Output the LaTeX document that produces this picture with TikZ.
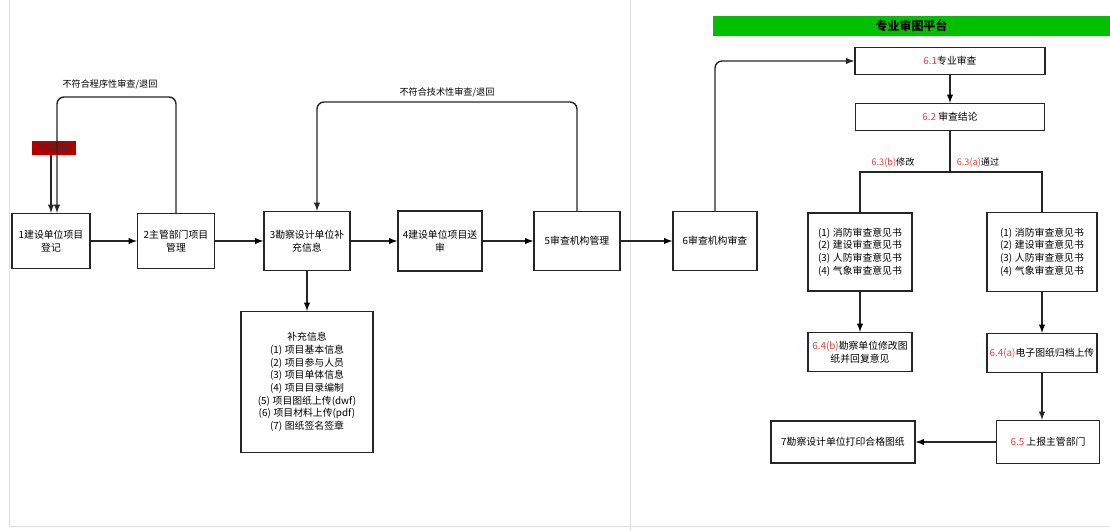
\documentclass[tikz,border=0pt]{standalone}
\usepackage{fontspec}
\usepackage{tikz}
\newfontfamily\cjk{Noto Sans CJK SC}
\definecolor{numred}{HTML}{E8413A}
\definecolor{startred}{HTML}{B00000}
\definecolor{bargreen}{HTML}{00C000}
\newcommand{\rnum}[1]{\textcolor{numred}{#1}}

\begin{document}
\begin{tikzpicture}[x=0.025cm,y=-0.025cm,
        box/.style={shape=rectangle,draw=black!85,line width=1pt,align=center,inner sep=1pt,font=\cjk\fontsize{7}{9}\selectfont},
        arr/.style={->,>=latex,draw=black!85,line width=1pt},
        lne/.style={draw=black!85,line width=1pt},
        note/.style={inner sep=1pt,font=\cjk\fontsize{6.5}{7.5}\selectfont}]
        \useasboundingbox (0,0) rectangle (1110,531);
        % page edges
        \draw[gray!25,line width=0.6pt] (630,0) -- (630,531);
        \draw[gray!25,line width=0.6pt] (9,0) -- (9,526) -- (1110,526);

        % left part
        \node[box,minimum width=1.95cm,minimum height=1.375cm] (b1) at (51, 241)  {1建设单位项目\\登记};
        \node[box,minimum width=1.925cm,minimum height=1.375cm] (b2) at (176, 241) {2主管部门项目\\管理};
        \node[box,minimum width=2.15cm,minimum height=1.475cm] (b3) at (307, 241) {3勘察设计单位补\\充信息};
        \node[box,minimum width=2.1cm,minimum height=1.5cm] (b4) at (440, 241)   {4建设单位项目送\\审};
        \node[box,minimum width=2.15cm,minimum height=1.475cm] (b5) at (577, 241) {5审查机构管理};
        \node[box,minimum width=2.1cm,minimum height=1.475cm] (b6) at (715, 241)  {6审查机构审查};
        \node[box,minimum width=3.3cm,minimum height=3.525cm] (info) at (307, 382) {补充信息\\
                (1)\;项目基本信息\\(2)\;项目参与人员\\(3)\;项目单体信息\\(4)\;项目目录编制\\
                (5)\;项目图纸上传(dwf)\\(6)\;项目材料上传(pdf)\\(7)\;图纸签名签章};
        \node[box,draw=none,fill=startred,text=black!80,minimum width=1.075cm,minimum height=0.325cm,font=\cjk\fontsize{5.5}{6}\selectfont] (start) at (54, 148) {项目启动};

        \coordinate (l1) at (57, 97);
        \coordinate (l2) at (317, 102);
        \draw[arr,rounded corners=5pt] (b2.north) |- (l1) -- (l1 |- b1.north);
        \draw[arr] (start.south -| b1.north) -- (b1.north);
        \draw[arr,rounded corners=5pt] (b5.north) |- (l2) -- (l2 |- b3.north);
        \node[note] (t1) at (110, 84) {不符合程序性审查/退回};
        \node[note] (t2) at (447, 92) {不符合技术性审查/退回};

        \path[arr] (b1) edge (b2);
        \path[arr] (b2) edge (b3);
        \path[arr] (b3) edge (b4);
        \path[arr] (b4) edge (b5);
        \path[arr] (b5) edge (b6);
        \path[arr] (b3) edge (info);

        % right part
        \node[box,draw=none,fill=bargreen,minimum width=9.925cm,minimum height=0.5cm,font=\cjk\bfseries\fontsize{8.5}{9}\selectfont] (plat) at (911.5, 26) {专业审图平台};
        \node[box,minimum width=4.75cm,minimum height=0.675cm] (r1) at (950, 61)   {\rnum{6.1}专业审查};
        \node[box,minimum width=4.725cm,minimum height=0.675cm] (r2) at (950, 117) {\rnum{6.2} 审查结论};
        \node[box,align=left,minimum width=2.6cm,minimum height=1.95cm] (op1) at (860, 252)
                {(1)\;消防审查意见书\\(2)\;建设审查意见书\\(3)\;人防审查意见书\\(4)\;气象审查意见书};
        \node[box,align=left,minimum width=2.75cm,minimum height=1.975cm] (op2) at (1042, 252)
                {(1)\;消防审查意见书\\(2)\;建设审查意见书\\(3)\;人防审查意见书\\(4)\;气象审查意见书};
        \node[box,minimum width=2.6cm,minimum height=0.975cm] (m1) at (860, 352)   {\rnum{6.4(b)}勘察单位修改图\\纸并回复意见};
        \node[box,minimum width=2.75cm,minimum height=0.975cm] (m2) at (1042, 353) {\rnum{6.4(a)}电子图纸归档上传};
        \node[box,minimum width=2.575cm,minimum height=1.075cm] (r65) at (1048, 442) {\rnum{6.5} 上报主管部门};
        \node[box,minimum width=3.6cm,minimum height=1.05cm] (r7) at (843, 442)   {7勘察设计单位打印合格图纸};

        \coordinate (split) at (950, 172);
        \draw[arr,rounded corners=5pt] (b6.north) |- (r1.west);
        \path[arr] (r1) edge (r2);
        \draw[lne] (r2.south) -- (split);
        \draw[lne] (split) -| (op1.north);
        \draw[lne] (split) -| (op2.north);
        \node[note] (t3) at (893, 163) {\rnum{6.3(b)}修改};
        \node[note] (t4) at (978, 163) {\rnum{6.3(a)}通过};
        \path[arr] (op1) edge (m1);
        \path[arr] (op2) edge (m2);
        \draw[arr] (m2.south) -- (m2.south |- r65.north);
        \path[arr] (r65) edge (r7);
\end{tikzpicture}
\end{document}
